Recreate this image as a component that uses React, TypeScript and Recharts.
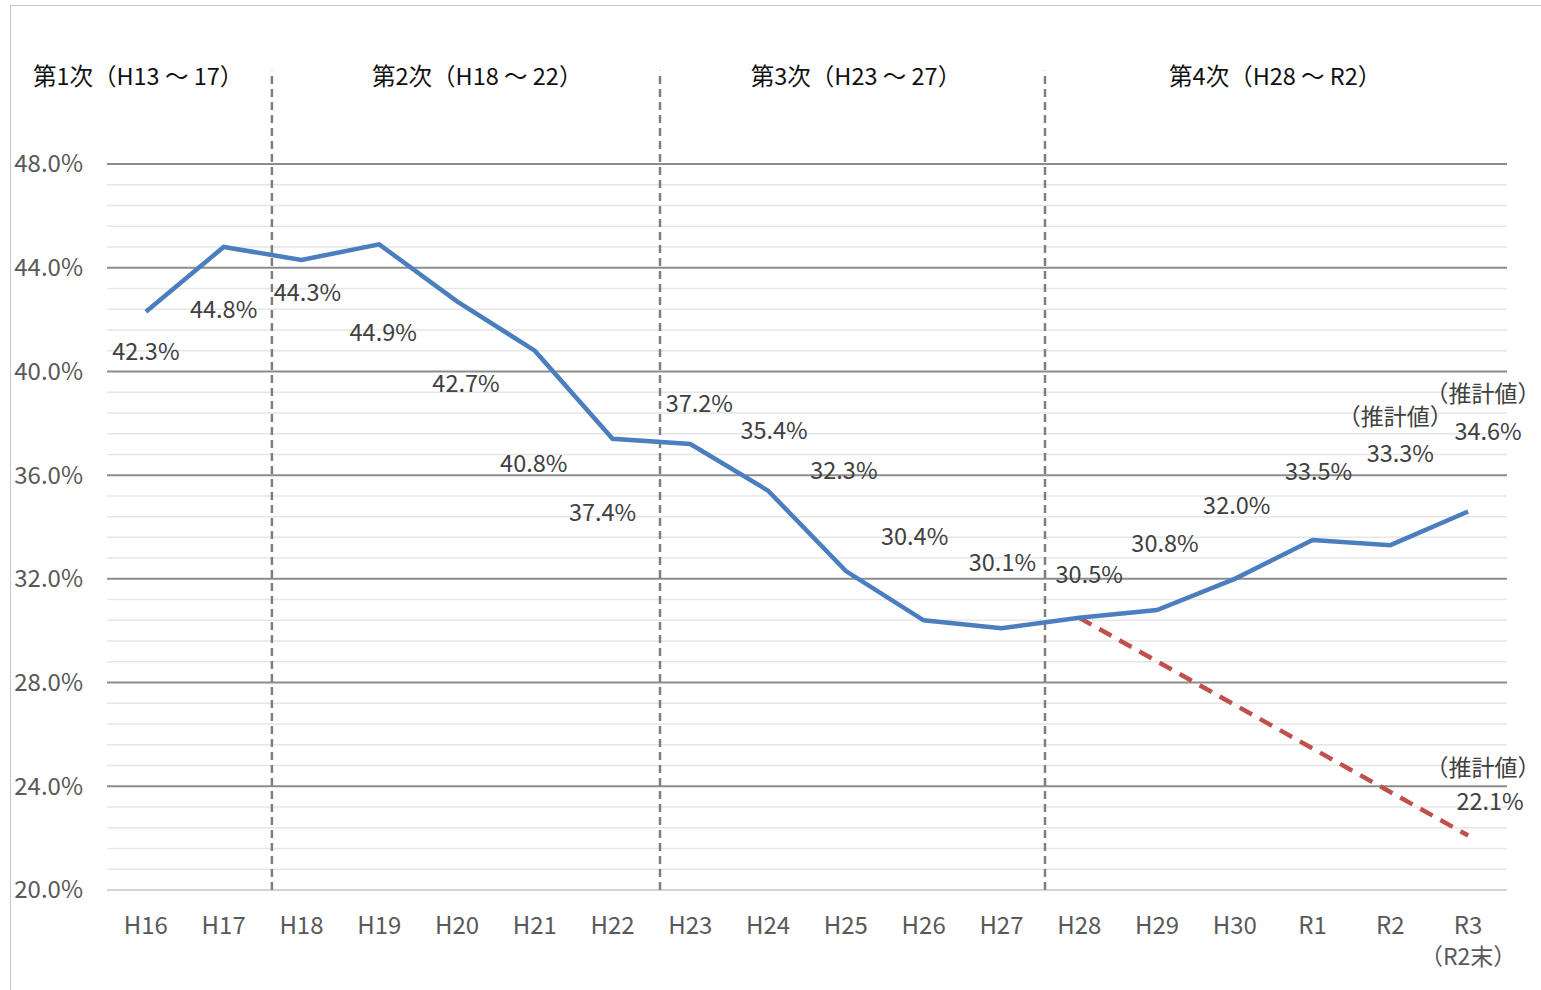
import { LineChart, Line, XAxis, YAxis, ReferenceLine, ReferenceDot, LabelList } from 'recharts';

const categories = ['H16', 'H17', 'H18', 'H19', 'H20', 'H21', 'H22', 'H23', 'H24', 'H25', 'H26', 'H27', 'H28', 'H29', 'H30', 'R1', 'R2', 'R3'];
const actualRate = [42.3, 44.8, 44.3, 44.9, 42.7, 40.8, 37.4, 37.2, 35.4, 32.3, 30.4, 30.1, 30.5, 30.8, 32.0, 33.5, 33.3, 34.6];
const projectedRate: (number | null)[] = [null, null, null, null, null, null, null, null, null, null, null, null, 30.5, null, null, null, null, 22.1];
const estimatedIdx = [16, 17];
const majorTicks = [20, 24, 28, 32, 36, 40, 44, 48];
const periodBreaks = [1.62, 6.61, 11.56];
const periodLabels = ['第1次（H13 ～ 17）', '第2次（H18 ～ 22）', '第3次（H23 ～ 27）', '第4次（H28 ～ R2）'];
const periodLabelPos = [-0.1, 4.26, 9.13, 14.52];

// label offsets from each point (Excel labels were hand-placed)
const labelOffsets: [number, number][] = [
  [0, 40], [0, 63], [6, 33], [4, 88], [9, 82], [-1, 113], [-10, 74], [9, -40], [6, -60],
  [-2, -100], [-9, -84], [1, -65], [10, -43], [8, -66], [2, -73], [6, -68], [10, -91], [20, -80],
];

const data = categories.map((name, i) => ({ i, name, actual: actualRate[i], projected: projectedRate[i] }));
const minorTicks: number[] = [];
for (let k = 0; k < majorTicks.length - 1; k++) {
  for (let s = 1; s < 5; s++) minorTicks.push(+(majorTicks[k] + s * 0.8).toFixed(1));
}

const FONT = '"Noto Sans CJK JP", "Noto Sans", sans-serif';
const labelStyle = { fontSize: 23.5, fill: '#404040', fontFamily: FONT };
const noteStyle = { fontSize: 23, fill: '#404040', fontFamily: FONT };

function XTick(props: any) {
  const { x, y, payload } = props;
  const name = categories[payload.value];
  return (
    <g>
      <text x={x} y={y + 34} dy="0.35em" textAnchor="middle" fontSize={24} fill="#595959" fontFamily={FONT}>{name}</text>
      {name === 'R3' && (
        <text x={x} y={y + 65} dy="0.35em" textAnchor="middle" fontSize={23} fill="#595959" fontFamily={FONT}>（R2末）</text>
      )}
    </g>
  );
}

function YTick(props: any) {
  const { x, y, payload } = props;
  return (
    <text x={x} y={y} dy="0.35em" textAnchor="end" fontSize={24} fill="#595959" fontFamily={FONT}>
      {payload.value.toFixed(1) + '%'}
    </text>
  );
}

function ActualLabel(props: any) {
  const x = props.x ?? props.viewBox?.x;
  const y = props.y ?? props.viewBox?.y;
  const idx = props.index;
  const [dx, dy] = labelOffsets[idx];
  return (
    <g>
      {estimatedIdx.includes(idx) && (
        <text x={x + dx - 5} y={y + dy - 37} dy="0.35em" textAnchor="middle" {...noteStyle}>（推計値）</text>
      )}
      <text x={x + dx} y={y + dy} dy="0.35em" textAnchor="middle" {...labelStyle}>{props.value.toFixed(1) + '%'}</text>
    </g>
  );
}

function ProjectedLabel(props: any) {
  if (props.index !== categories.length - 1 || props.value == null) return null;
  const x = props.x ?? props.viewBox?.x;
  const y = props.y ?? props.viewBox?.y;
  return (
    <g>
      <text x={x + 15} y={y - 68} dy="0.35em" textAnchor="middle" {...noteStyle}>（推計値）</text>
      <text x={x + 22} y={y - 34} dy="0.35em" textAnchor="middle" {...labelStyle}>{props.value.toFixed(1) + '%'}</text>
    </g>
  );
}

export default function App() {
  return (
    <div style={{ position: 'absolute', left: 0, top: 0, width: 1541, height: 990, background: '#fff' }}>
      <div style={{ position: 'absolute', left: 10, top: 5, right: 0, bottom: 0, borderTop: '1.5px solid #c6c6c6', borderLeft: '1.5px solid #c6c6c6' }} />
      <LineChart width={1541} height={990} data={data} margin={{ top: 164, right: 34, bottom: 0, left: 0 }}>
        <XAxis
          type="number"
          dataKey="i"
          domain={[-0.5, 17.5]}
          ticks={categories.map((_, i) => i)}
          interval={0}
          tick={<XTick />}
          tickLine={false}
          axisLine={false}
          tickSize={0}
          height={100}
        />
        <YAxis
          domain={[20, 48]}
          ticks={majorTicks}
          interval={0}
          tick={<YTick />}
          tickLine={false}
          axisLine={false}
          tickSize={0}
          tickMargin={24}
          width={107}
        />
        {minorTicks.map((v) => (
          <ReferenceLine key={'m' + v} y={v} stroke="#e6e6e6" strokeWidth={1.5} />
        ))}
        {majorTicks.map((v) => (
          <ReferenceLine key={'M' + v} y={v} stroke={v === 20 ? '#d4d4d4' : '#8c8c8c'} strokeWidth={2} />
        ))}
        {periodBreaks.map((b) => (
          <ReferenceLine
            key={'b' + b}
            segment={[{ x: b, y: 20 }, { x: b, y: 51.6 }]}
            stroke="#7f7f7f"
            strokeWidth={2.5}
            strokeDasharray="8 5"
            ifOverflow="visible"
          />
        ))}
        {periodLabels.map((t, k) => (
          <ReferenceDot
            key={t}
            x={periodLabelPos[k]}
            y={51.36}
            r={0}
            ifOverflow="visible"
            shape={(p: any) => (
              <text x={p.cx} y={p.cy} dy="0.35em" textAnchor="middle" fontSize={23.5} fill="#111" fontFamily={FONT}>{t}</text>
            )}
          />
        ))}
        <Line
          type="linear"
          dataKey="projected"
          stroke="#c0504d"
          strokeWidth={4.5}
          strokeDasharray="14 9"
          dot={false}
          activeDot={false}
          connectNulls
          isAnimationActive={false}
        >
          <LabelList dataKey="projected" content={<ProjectedLabel />} />
        </Line>
        <Line
          type="linear"
          dataKey="actual"
          stroke="#4a7ebf"
          strokeWidth={4.5}
          dot={false}
          activeDot={false}
          isAnimationActive={false}
        >
          <LabelList dataKey="actual" content={<ActualLabel />} />
        </Line>
      </LineChart>
    </div>
  );
}
